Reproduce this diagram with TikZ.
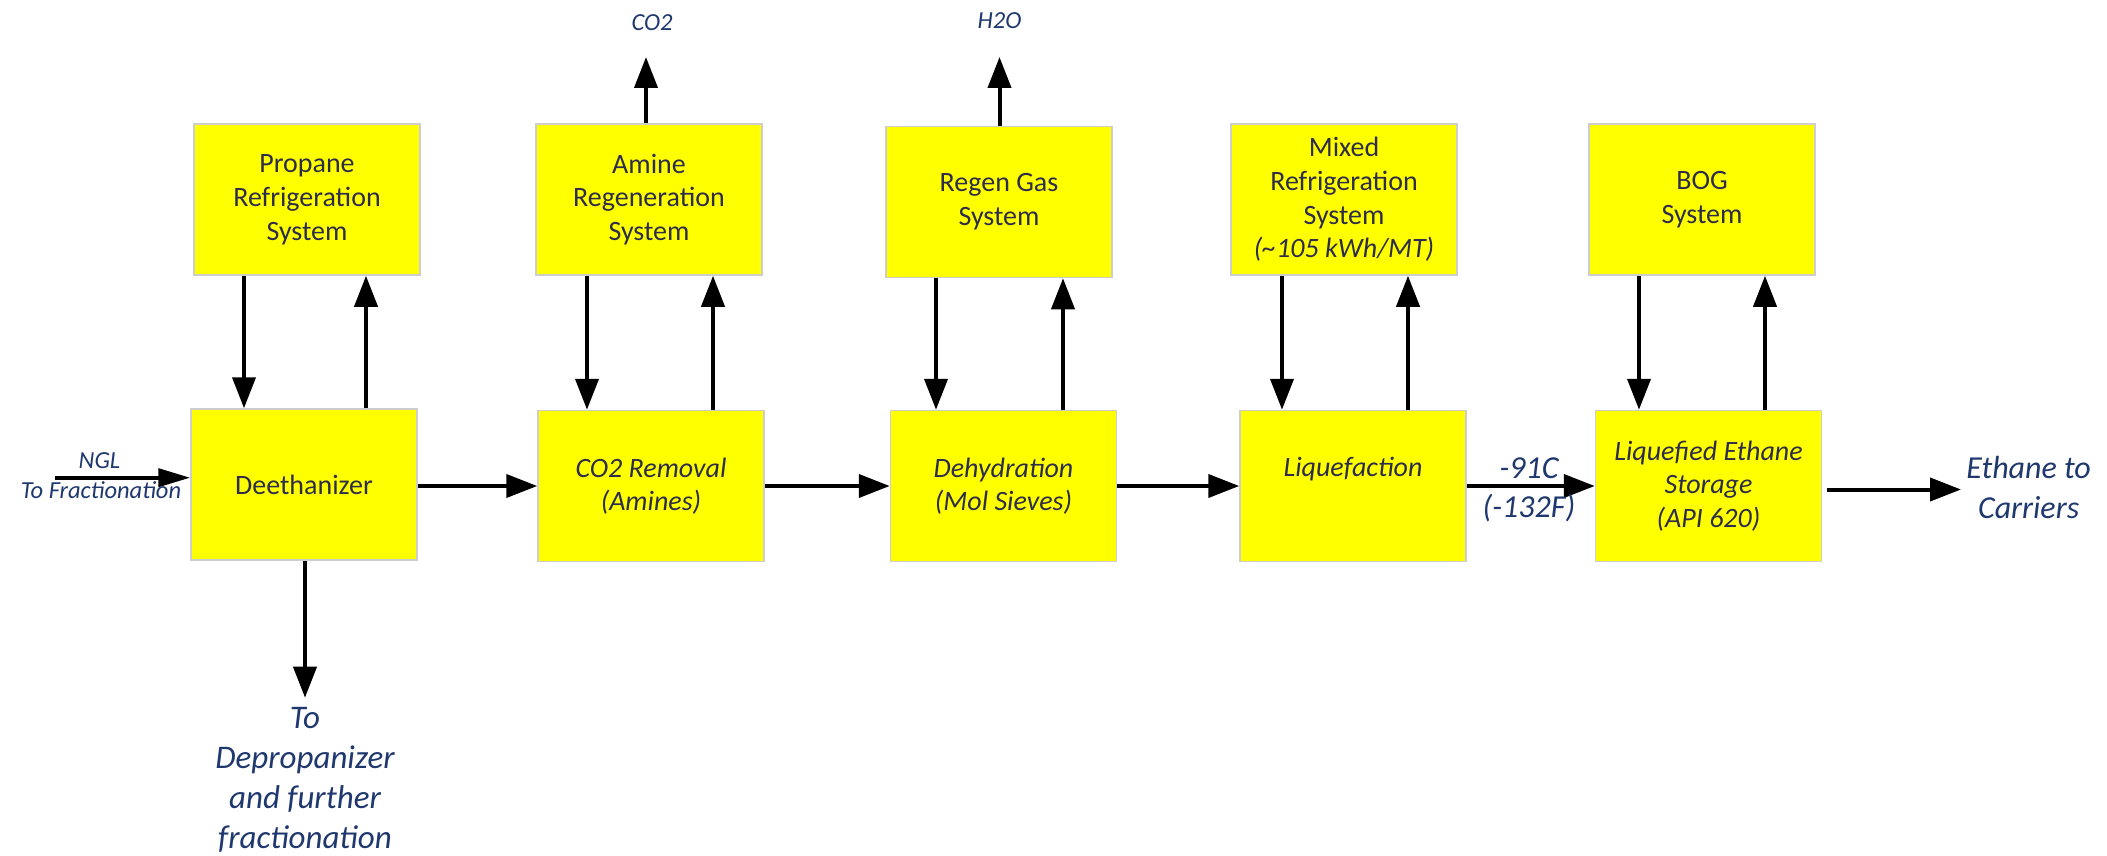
\documentclass[tikz,border=0pt]{standalone}
\usepackage{fontspec}
\setmainfont{Carlito}
\usetikzlibrary{arrows.meta,calc}
\definecolor{boxyellow}{RGB}{255,255,0}
\definecolor{boxedge}{RGB}{205,205,205}
\definecolor{boxtext}{RGB}{45,45,75}
\definecolor{labelblue}{RGB}{31,56,110}
\tikzset{
  unit/.style={draw=boxedge, line width=1.5pt, fill=boxyellow, minimum width=226pt, minimum height=151pt,
    inner sep=0pt, align=center, text=boxtext, font=\fontsize{28}{33.8}\selectfont},
  iunit/.style={unit, font=\fontsize{28}{33.5}\selectfont\itshape},
  flow/.style={line width=4pt, -{Triangle[length=31pt,width=23pt]}},
  thinflow/.style={line width=4pt, -{Triangle[length=32pt,width=18pt]}},
  biglabel/.style={text=labelblue, align=center, inner sep=0pt, font=\fontsize{32}{39.5}\selectfont\itshape},
  smalllabel/.style={text=labelblue, align=center, inner sep=0pt, font=\fontsize{24.5}{28}\selectfont\itshape},
}
\begin{document}
\begin{tikzpicture}[x=1pt,y=-1pt]
\path[use as bounding box, fill=white] (0,0) rectangle (2107,856);

% top boxes
\node[unit] (prop)  at (307,199.5) {Propane\\Refrigeration\\System};
\node[unit] (amine) at (649,199.5) {Amine\\Regeneration\\System};
\node[unit] (regen) at (999,202) {Regen Gas\\System};
\node[unit] (mixed) at (1344,199.5) {Mixed\\Refrigeration\\System\\{\itshape(\textasciitilde105 kWh/MT)}};
\node[unit] (bog)   at (1702,199.5) {BOG\\System};

% bottom boxes
\node[unit]  (deeth) at (304,484.5) {Deethanizer};
\node[iunit] (co2r)  at (651,486) {CO2 Removal\\(Amines)};
\node[iunit] (dehyd) at (1003.5,486) {Dehydration\\(Mol Sieves)};
\node[iunit] (liq)   at (1353,486) {Liquefaction\\\phantom{(X)}};
\node[iunit] (stor)  at (1708.5,486) {Liquefied Ethane\\Storage\\(API 620)};

% vertical arrows between top and bottom boxes
\foreach \t/\b/\dn/\up in {prop/deeth/-63/59, amine/co2r/-62/64, regen/dehyd/-63/64, mixed/liq/-62/64, bog/stor/-63/63}{
  \coordinate (d\t) at ([xshift=\dn pt]\t.south);
  \coordinate (u\t) at ([xshift=\up pt]\t.south);
  \draw[flow] (d\t) -- (d\t |- \b.north);
  \draw[flow] (u\t |- \b.north) -- (u\t);
}

% vent arrows
\coordinate (co2top) at (646,57);
\coordinate (h2otop) at (999.5,57);
\draw[flow] (amine.north -| co2top) -- (co2top);
\draw[flow] (regen.north -| h2otop) -- (h2otop);
\node[smalllabel] (co2lab) at (652,23) {CO2};
\node[smalllabel] (h2olab) at (999.5,21) {H2O};

% main flow
\draw[flow] (deeth.east |- co2r.west) -- (co2r.west);
\draw[flow] (co2r.east) -- (dehyd.west);
\draw[flow] (dehyd.east) -- (liq.west);
\draw[flow] (liq.east) -- (stor.west);
\coordinate (ethend) at (1961,489.5);
\draw[flow] ([xshift=5pt]stor.east |- ethend) -- (ethend);

% feed
\coordinate (ngl) at (55,477.7);
\draw[thinflow] (ngl) -- (ngl -| deeth.west);
\node[smalllabel] (ngllab) at (99.5,461) {NGL};
\node[smalllabel] (fraclab) at (101,490) {To Fractionation};

% bottoms
\coordinate (depend) at (305,697.7);
\draw[flow] (deeth.south -| depend) -- (depend);
\node[biglabel, font=\fontsize{33}{40.2}\selectfont\itshape] (deplab) at (305,780) {To\\Depropanizer\\and further\\fractionation};

% temperatures and product
\node[biglabel] (t1) at (1529,468.4) {-91C};
\node[biglabel] (t2) at (1529,507.7) {(-132F)};
\node[biglabel] (eth) at (2028.6,487.5) {Ethane to\\Carriers};
\end{tikzpicture}
\end{document}
